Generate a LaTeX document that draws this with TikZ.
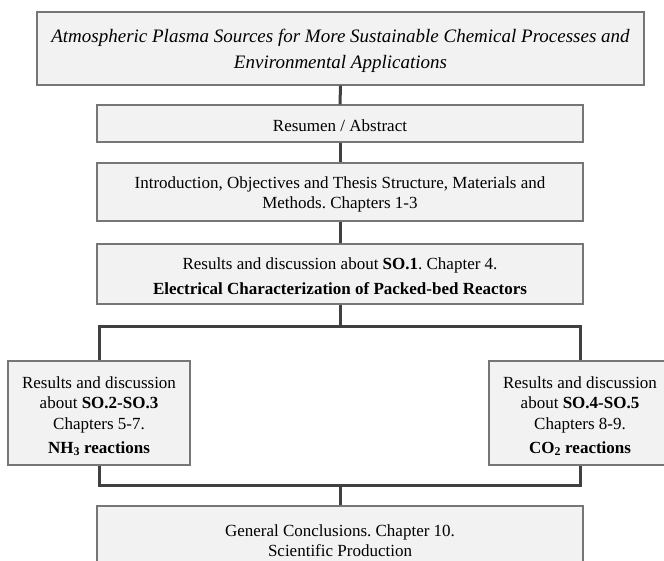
\documentclass[tikz,border=0pt]{standalone}
\usepackage{fontspec}
\setmainfont{Liberation Serif}
\frenchspacing
\definecolor{boxfill}{HTML}{F2F2F2}
\definecolor{boxline}{HTML}{767676}
\definecolor{connc}{HTML}{404040}
\newcommand{\topstrut}[1]{\rule{0pt}{#1}}
\begin{document}
\begin{tikzpicture}[x=1pt,y=-1pt,
  box/.style={draw=boxline, line width=1.2pt, fill=boxfill, inner sep=0pt,
    align=center, font=\fontsize{17}{20}\selectfont},
  connector/.style={draw=connc, line width=3pt}]
\useasboundingbox (0,0) rectangle (664,561);
\clip (0,0) rectangle (664,561);

\node[box, minimum width=607pt, minimum height=73pt,
  font=\fontsize{19}{26}\selectfont\itshape] (title) at (340.5,48.5)
  {\topstrut{18pt}Atmospheric Plasma Sources for More Sustainable Chemical Processes and\\
   Environmental Applications};
\node[box, minimum width=486pt, minimum height=37pt] (resumen) at (340,123.5)
  {\topstrut{16.5pt}Resumen / Abstract};
\node[box, minimum width=486pt, minimum height=58pt] (intro) at (340,192)
  {\topstrut{16.5pt}Introduction, Objectives and Thesis Structure, Materials and\\
   Methods. Chapters 1-3};
\node[box, minimum width=486pt, minimum height=60pt] (so1) at (340,274)
  {\topstrut{16.5pt}Results and discussion about \textbf{SO.1}. Chapter 4.\\[5pt]
   \textbf{Electrical Characterization of Packed-bed Reactors}};
\node[box, minimum width=182pt, minimum height=104pt] (left) at (99,413)
  {\topstrut{18pt}Results and discussion\\
   about \textbf{SO.2-SO.3}\\[1pt]
   Chapters 5-7.\\[4pt]
   \textbf{NH\textsubscript{3} reactions}};
\node[box, minimum width=182pt, minimum height=104pt] (right) at (580,413)
  {\topstrut{18pt}Results and discussion\\
   about \textbf{SO.4-SO.5}\\[1pt]
   Chapters 8-9.\\[4pt]
   \textbf{CO\textsubscript{2} reactions}};
\node[box, minimum width=486pt, minimum height=70pt] (bottom) at (340,541)
  {General Conclusions. Chapter 10.\\
   Scientific Production};

\coordinate (jt) at (340,327);
\coordinate (jtl) at (99,327);
\coordinate (jtr) at (580,327);
\coordinate (jb) at (340,485);
\coordinate (jbl) at (99,485);
\coordinate (jbr) at (580,485);

\draw[connector] (title.south) -- (resumen.north);
\draw[connector] (resumen.south) -- (intro.north);
\draw[connector] (intro.south) -- (so1.north);
\draw[connector] (so1.south) -- (jt);
\draw[connector] (left.north) -- (jtl) -- (jtr) -- (right.north);
\draw[connector] (left.south) -- (jbl) -- (jbr) -- (right.south);
\draw[connector] (jb) -- (bottom.north);
\end{tikzpicture}
\end{document}
